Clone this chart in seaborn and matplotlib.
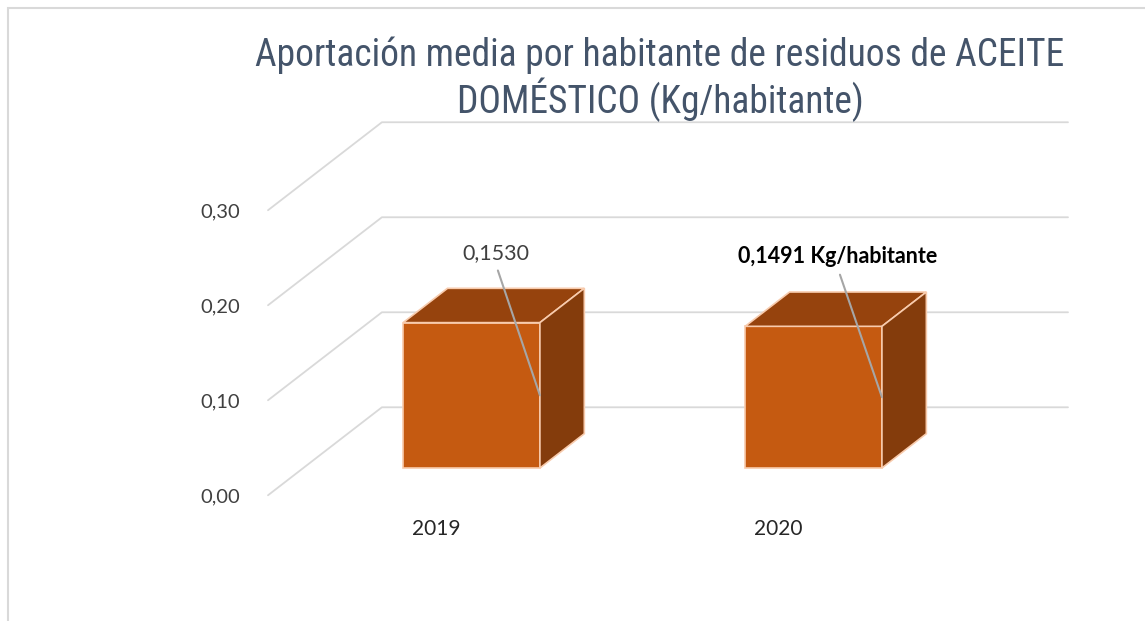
import matplotlib
matplotlib.use("Agg")
from matplotlib import pyplot as plt
from matplotlib.patches import Polygon, Rectangle
import seaborn as sns
import pandas as pd

# Data
years = ["2019", "2020"]
values = [0.1530, 0.1491]
value_labels = ["0,1530", "0,1491 Kg/habitante"]
y_ticks = [0.00, 0.10, 0.20, 0.30]
y_tick_labels = ["0,00", "0,10", "0,20", "0,30"]
title = "Aportación media por habitante de residuos de ACEITE\nDOMÉSTICO (Kg/habitante)"

# 3D look (floor depth offsets in data units)
DX = 0.333     # depth shift along x (categories)
DY = 0.0926    # depth shift along y (values)
D0 = 0.31      # depth where the bar front face sits
BAR_DEPTH = 0.39
FRONT = "#C55A11"
TOP = "#96430D"
SIDE = "#843C0C"
EDGE = "#F8CBAD"
GRID = "#D9D9D9"
TXT = "#404040"

sns.set_style("white")
plt.rcParams["font.family"] = ["Lato", "DejaVu Sans"]

fig = plt.figure(figsize=(11.45, 6.21), dpi=100)
ax = fig.add_axes([268 / 1145, 1 - 496.5 / 621, 800 / 1145, 371.5 / 621])
xl, xr = -0.595, 1.744

# chart area border (cropped)
fig.patches.append(Rectangle((8 / 1145, -0.1), 1.2, 1 - 8 / 621 + 0.1,
                             transform=fig.transFigure, fill=False,
                             edgecolor=GRID, linewidth=1.5))

# Bars (front faces)
df = pd.DataFrame({"year": years, "value": values})
sns.barplot(data=df, x="year", y="value", color=FRONT, width=0.4,
            edgecolor=EDGE, linewidth=1.2, saturation=1, ax=ax, zorder=2)

bdx = BAR_DEPTH * DX
bdy = BAR_DEPTH * DY
for p in list(ax.patches):
    x0 = p.get_x()
    w = p.get_width()
    h = p.get_height()
    top = Polygon([(x0, h), (x0 + w, h), (x0 + w + bdx, h + bdy), (x0 + bdx, h + bdy)],
                  closed=True, facecolor=TOP, edgecolor=EDGE, linewidth=1.2, zorder=2)
    side = Polygon([(x0 + w, 0), (x0 + w + bdx, bdy), (x0 + w + bdx, h + bdy), (x0 + w, h)],
                   closed=True, facecolor=SIDE, edgecolor=EDGE, linewidth=1.2, zorder=2)
    ax.add_patch(top)
    ax.add_patch(side)

# Gridlines: floor diagonal + back wall
for v in y_ticks:
    y_front = v - D0 * DY
    y_back = v + (1 - D0) * DY
    ax.plot([xl, xl + DX, xr], [y_front, y_back, y_back], color=GRID,
            linewidth=1.3, zorder=0.5, clip_on=False)

# Value labels with leader lines
for i, v in enumerate(values):
    bold = i == 1
    ax.annotate(value_labels[i], xy=(i + 0.2, v / 2), xytext=(i + 0.07, v + 0.073),
                ha="center", va="center", fontsize=15.5,
                fontweight="bold" if bold else "normal",
                color="black" if bold else TXT,
                arrowprops=dict(arrowstyle="-", color="#A6A6A6", linewidth=1.5,
                                relpos=(0.5, 0), shrinkA=3, shrinkB=0),
                zorder=5)

# Axes ticks (placed on the front edge of the floor)
ax.set_yticks([v - D0 * DY for v in y_ticks])
ax.set_yticklabels(y_tick_labels)
ax.set_xticks([i - D0 * DX for i in range(len(years))])
ax.set_xticklabels(years)
ax.tick_params(axis="y", length=0, pad=20, labelsize=14.5, labelcolor=TXT)
ax.tick_params(axis="x", length=0, pad=16, labelsize=15, labelcolor="#262626")
ax.set_xlabel("")
ax.set_ylabel("")
sns.despine(ax=ax, left=True, bottom=True)

# limits last: seaborn resets them for categorical axes
ax.set_xlim(xl, xr)
ax.set_ylim(-0.03, 0.361)

fig.text(660 / 1145, 1 - 79 / 621, title, ha="center", va="center",
         fontsize=27, color="#44546A", linespacing=1.1,
         family=["Roboto Condensed", "Roboto", "DejaVu Sans"])

plt.savefig("out.png", dpi=100)
